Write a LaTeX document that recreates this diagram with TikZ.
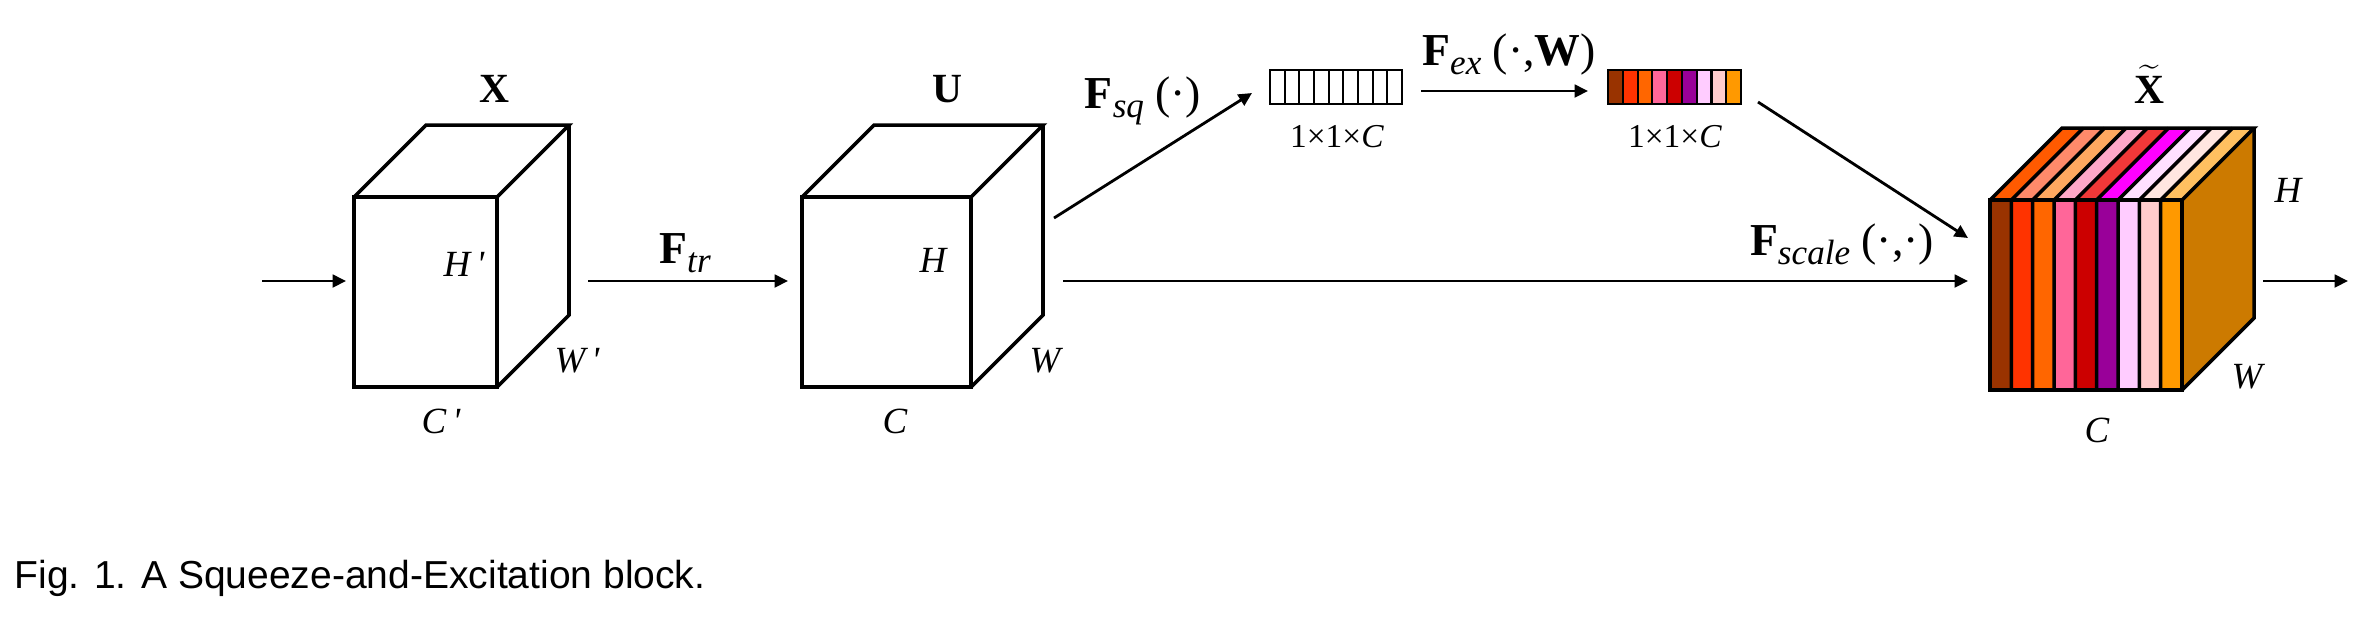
\documentclass[tikz,border=0pt]{standalone}
\usepackage{fontspec}
\setmainfont{Liberation Serif}
\newfontfamily\capfont{Liberation Sans}
\usetikzlibrary{arrows.meta}
\definecolor{fa}{HTML}{993300}
\definecolor{fb}{HTML}{FF3300}
\definecolor{fc}{HTML}{FF6600}
\definecolor{fd}{HTML}{FF6699}
\definecolor{fe}{HTML}{CC0000}
\definecolor{ff}{HTML}{990099}
\definecolor{fg}{HTML}{FFCCFF}
\definecolor{fh}{HTML}{FFCCCC}
\definecolor{fi}{HTML}{FF9900}
\definecolor{ta}{HTML}{FF5A00}
\definecolor{tb}{HTML}{FF8A6A}
\definecolor{tc}{HTML}{FFA860}
\definecolor{td}{HTML}{FFA8C8}
\definecolor{te}{HTML}{F03838}
\definecolor{tf}{HTML}{FF00FF}
\definecolor{tg}{HTML}{FFE0FF}
\definecolor{th}{HTML}{FFE6E0}
\definecolor{ti}{HTML}{FFC060}
\definecolor{sideface}{HTML}{CC7A00}
\newcommand\Fsub[1]{\textbf{F}\raisebox{-2.6pt}{\fontsize{10}{12}\selectfont\itshape #1}}
\begin{document}
\begin{tikzpicture}[x=0.01cm,y=-0.01cm,
  cubeline/.style={line width=1pt, line join=miter},
  vecline/.style={line width=0.6pt},
  conn/.style={line width=0.8pt, -{Triangle[length=3.8pt,width=3.6pt]}},
  ilbl/.style={inner sep=0pt, anchor=base, font=\fontsize{10.5}{12}\selectfont\itshape},
  blbl/.style={inner sep=0pt, anchor=base, font=\fontsize{11.8}{14}\selectfont\bfseries},
  flbl/.style={inner sep=0pt, anchor=base, font=\fontsize{13}{15}\selectfont},
  vlbl/.style={inner sep=0pt, anchor=base, font=\fontsize{9.5}{11}\selectfont},
  caplbl/.style={inner sep=0pt, anchor=base west, font=\capfont\fontsize{11.1}{13}\selectfont},
]
\useasboundingbox (0,0) rectangle (2356,620);

% ---- cube X
\draw[cubeline] (354,197) rectangle (497,387);
\draw[cubeline] (354,197) -- (426,125) -- (569,125) -- (497,197);
\draw[cubeline] (569,125) -- (569,315) -- (497,387);
\node[blbl] (lX) at (494,102) {X};
\node[ilbl] (lHp) at (464,276) {H\,\textquotesingle};
\node[ilbl] (lWp) at (577,372) {W\,\textquotesingle};
\node[ilbl] (lCp) at (441,433) {C\,\textquotesingle};

% ---- cube U
\draw[cubeline] (802,197) rectangle (971,387);
\draw[cubeline] (802,197) -- (874,125) -- (1043,125) -- (971,197);
\draw[cubeline] (1043,125) -- (1043,315) -- (971,387);
\node[blbl] (lU) at (947,102) {U};
\node[ilbl] (lH) at (933,272) {H};
\node[ilbl] (lW) at (1045,372) {W};
\node[ilbl] (lC) at (895,433) {C};

% ---- squeezed vector
\foreach \i in {0,...,8}
  \draw[vecline] ({1270+\i*14.667},70) rectangle ++(14.667,34);
\node[vlbl] (lv1) at (1337,147) {1×1×\textit{C}};

% ---- excited vector
\foreach \c [count=\i from 0] in {fa,fb,fc,fd,fe,ff,fg,fh,fi}
  \draw[vecline, fill=\c] ({1608+\i*14.778},70) rectangle ++(14.778,34);
\node[vlbl] (lv2) at (1675,147) {1×1×\textit{C}};

% ---- output cube
\fill[sideface] (2182,200) -- (2254,128) -- (2254,318) -- (2182,390) -- cycle;
\foreach \c [count=\i from 0] in {fa,fb,fc,fd,fe,ff,fg,fh,fi}
  \fill[\c] ({1990+\i*21.333},200) rectangle ++(21.333,190);
\foreach \c [count=\i from 0] in {ta,tb,tc,td,te,tf,tg,th,ti}
  \fill[\c] ({1990+\i*21.333},200) -- ++(72,-72) -- ++(21.333,0) -- ++(-72,72) -- cycle;
\foreach \i in {1,...,8} {
  \draw[cubeline] ({1990+\i*21.333},390) -- ({1990+\i*21.333},200) -- ++(72,-72);
}
\draw[cubeline] (1990,200) rectangle (2182,390);
\draw[cubeline] (1990,200) -- (2062,128) -- (2254,128) -- (2182,200);
\draw[cubeline] (2254,128) -- (2254,318) -- (2182,390);
\node[blbl] (lXt) at (2149,103) {$\widetilde{\textbf{X}}$};
\node[ilbl] (lHo) at (2288,202) {H};
\node[ilbl] (lWo) at (2247,388) {W};
\node[ilbl] (lCo) at (2097,442) {C};

% ---- connectors
\coordinate (in0) at (262,281);  \coordinate (in1) at (346,281);
\coordinate (tr0) at (588,281);  \coordinate (tr1) at (788,281);
\coordinate (sq0) at (1054,218); \coordinate (sq1) at (1252,93);
\coordinate (ex0) at (1421,91);  \coordinate (ex1) at (1588,91);
\coordinate (ex2) at (1758,102); \coordinate (sc1) at (1968,238);
\coordinate (sc0) at (1063,281); \coordinate (sc2) at (1968,281);
\coordinate (out0) at (2263,281); \coordinate (out1) at (2348,281);
\draw[conn] (in0) -- (in1);
\draw[conn] (tr0) -- (tr1);
\draw[conn] (sq0) -- (sq1);
\draw[conn] (ex0) -- (ex1);
\draw[conn] (ex2) -- (sc1);
\draw[conn] (sc0) -- (sc2);
\draw[conn] (out0) -- (out1);

\node[flbl] (lFtr) at (685,263) {\Fsub{tr}};
\node[flbl] (lFsq) at (1143,108) {\Fsub{sq}\ (·)};
\node[flbl] (lFex) at (1509,65) {\Fsub{ex}\ (·,\textbf{W})};
\node[flbl] (lFsc) at (1842,255) {\Fsub{scale}\ (·,·)};

\node[caplbl] (cap) at (14,588) {Fig. 1. A Squeeze-and-Excitation block.};
\end{tikzpicture}
\end{document}
